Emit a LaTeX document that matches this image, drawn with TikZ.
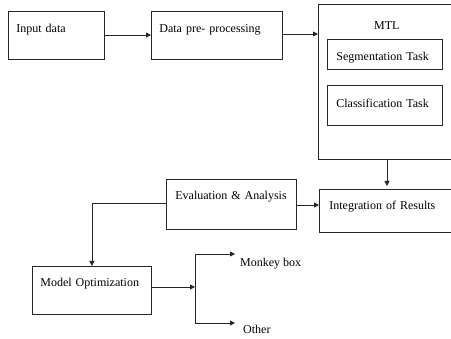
\documentclass[tikz,border=0pt]{standalone}
\usepackage{fontspec}
\setmainfont{Liberation Serif}
\usetikzlibrary{arrows.meta}

\begin{document}
\begin{tikzpicture}[
    x=1pt,y=-1pt,
    font=\fontsize{12}{14}\selectfont,
    box/.style={draw=black!85,line width=0.8pt,anchor=north west,
                align=left,inner xsep=8pt,inner ysep=0pt},
    flow/.style={-{Triangle[length=5pt,width=5pt]},line width=0.8pt,draw=black!85},
    plain/.style={line width=0.8pt,draw=black!85},
    tag/.style={inner sep=0pt,anchor=base west}
  ]
    \clip (0,0) rectangle (451,339);

    \node[box,text width=80pt,text height=21pt,text depth=27pt]
      (input) at (8,11) {Input data};
    \node[box,text width=115pt,text height=21pt,text depth=27pt]
      (prep) at (151,11) {Data pre- processing};
    \node[box,align=center,text width=121pt,text height=25pt,text depth=130pt]
      (mtl) at (318,4) {MTL};
    \node[box,inner xsep=9pt,text width=97pt,text height=21pt,text depth=9pt]
      (seg) at (327,39) {Segmentation Task};
    \node[box,inner xsep=9pt,text width=97pt,text height=22pt,text depth=18pt]
      (cls) at (327,85) {Classification Task};
    \node[box,inner xsep=10pt,text width=116pt,text height=20pt,text depth=23pt]
      (integ) at (319,189) {Integration of Results};
    \node[box,inner xsep=9pt,text width=112pt,text height=20pt,text depth=30pt]
      (eval) at (166,179) {Evaluation \& Analysis};
    \node[box,text width=103pt,text height=20pt,text depth=28pt]
      (modelopt) at (32,266) {Model Optimization};

    \node[tag] (monkey) at (240,267) {Monkey box};
    \node[tag] (other) at (243,334) {Other};

    \coordinate (split) at (195,287);
    \coordinate (toMonkey) at (235,254);
    \coordinate (toOther) at (235,323);

    \draw[flow] (input.east |- 0,35) -- (prep.west |- 0,35);
    \draw[flow] (prep.east |- 0,34) -- (mtl.west |- 0,34);
    \draw[flow,shorten >=3pt] (387,0 |- mtl.south) -- (387,0 |- integ.north);
    \draw[flow] (eval.east |- 0,205) -- (integ.west |- 0,205);
    \draw[flow] (eval.west |- 0,203) -| (modelopt.north);
    \draw[flow] (modelopt.east |- split) -- (split);
    \draw[plain] (toMonkey -| split) -- (toOther -| split);
    \draw[flow] (toMonkey -| split) -- (toMonkey);
    \draw[flow] (toOther -| split) -- (toOther);
\end{tikzpicture}
\end{document}
